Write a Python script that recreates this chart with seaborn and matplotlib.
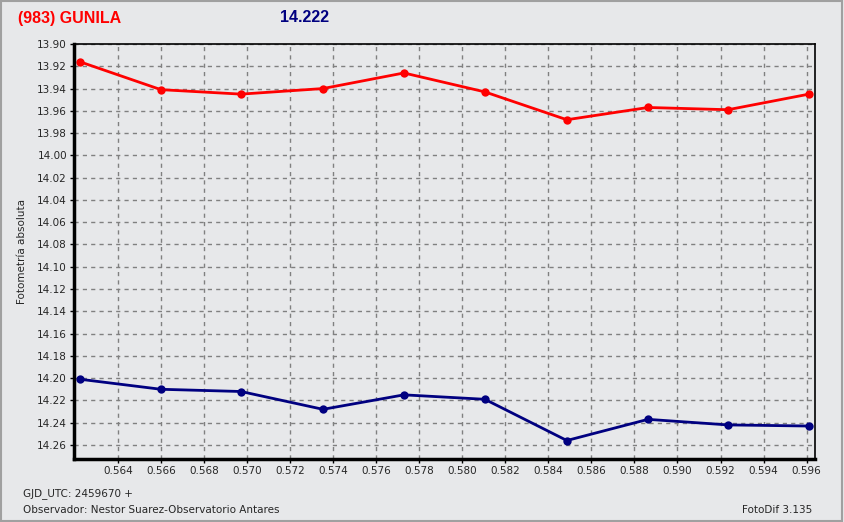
import numpy as np
import pandas as pd
import seaborn as sns
import matplotlib.pyplot as plt
from matplotlib.patches import Rectangle
from matplotlib.ticker import MultipleLocator, FormatStrFormatter

# fraction of day after GJD 2459670
jd_frac = [0.56224, 0.56600, 0.56972, 0.57353, 0.57729,
           0.58105, 0.58486, 0.58863, 0.59235, 0.59611]
mag_asteroid = [13.916, 13.941, 13.945, 13.940, 13.926,
                13.943, 13.968, 13.957, 13.959, 13.945]
mag_reference = [14.201, 14.210, 14.212, 14.228, 14.215,
                 14.219, 14.256, 14.237, 14.242, 14.243]
x_ticks = [0.564, 0.566, 0.568, 0.570, 0.572, 0.574, 0.576, 0.578, 0.580,
           0.582, 0.584, 0.586, 0.588, 0.590, 0.592, 0.594, 0.596]
series_names = ["asteroid", "reference"]
series_colors = ["#ff0000", "#000080"]

df = pd.DataFrame({
    "x": jd_frac * 2,
    "mag": mag_asteroid + mag_reference,
    "serie": [series_names[0]] * len(jd_frac) + [series_names[1]] * len(jd_frac),
})

bg = "#e7e8ea"
sns.set_style("white")
plt.rcParams["font.family"] = ["DejaVu Sans"]

fig = plt.figure(figsize=(8.44, 5.22), dpi=100, facecolor=bg)
ax = fig.add_axes([74 / 844, 1 - 459 / 522, (815 - 74) / 844, (459 - 44) / 522])
ax.set_facecolor(bg)

sns.lineplot(data=df, x="x", y="mag", hue="serie", palette=series_colors,
             marker="o", markersize=6, markeredgewidth=0, linewidth=2,
             legend=False, ax=ax)

ax.set_xlim(0.56196, 0.59639)
ax.set_ylim(14.2726, 13.90)
ax.set_xticks(x_ticks)
ax.yaxis.set_major_locator(MultipleLocator(0.02))
ax.xaxis.set_major_formatter(FormatStrFormatter("%.3f"))
ax.yaxis.set_major_formatter(FormatStrFormatter("%.2f"))
ax.grid(True, color="#808080", linestyle=(0, (3, 3)), linewidth=1)
ax.tick_params(axis="both", labelsize=7.5, length=3, width=1, color="black",
               direction="out", left=True, bottom=True, pad=2)
ax.set_xlabel("")
ax.set_ylabel("Fotometría absoluta", fontsize=7.5)
ax.yaxis.set_label_coords(-(74 - 27) / 741, 0.5)

for side in ["left", "bottom"]:
    ax.spines[side].set_linewidth(2.5)
for side in ["top", "right"]:
    ax.spines[side].set_linewidth(1.2)
for sp in ax.spines.values():
    sp.set_color("black")
    sp.set_visible(True)

fig.text(18 / 844, 1 - 18 / 522, "(983) GUNILA", color="#ff0000", fontsize=11.5,
         fontweight="bold", family="Liberation Sans", va="center")
fig.text(280 / 844, 1 - 18 / 522, "14.222", color="#000080", fontsize=11.5,
         fontweight="bold", family="Liberation Sans", va="center")
fig.text(23 / 844, 1 - 494 / 522, "GJD_UTC: 2459670 +", fontsize=7.5, va="center")
fig.text(23 / 844, 1 - 510 / 522, "Observador: Nestor Suarez-Observatorio Antares",
         fontsize=7.5, va="center")
fig.text(742 / 844, 1 - 510 / 522, "FotoDif 3.135", fontsize=7.5, va="center")

fig.patches.append(Rectangle((0.001, 0.002), 0.997, 0.996, transform=fig.transFigure,
                             fill=False, edgecolor="#a0a0a0", linewidth=1.5))

fig.savefig("out.png", dpi=100, facecolor=bg)
